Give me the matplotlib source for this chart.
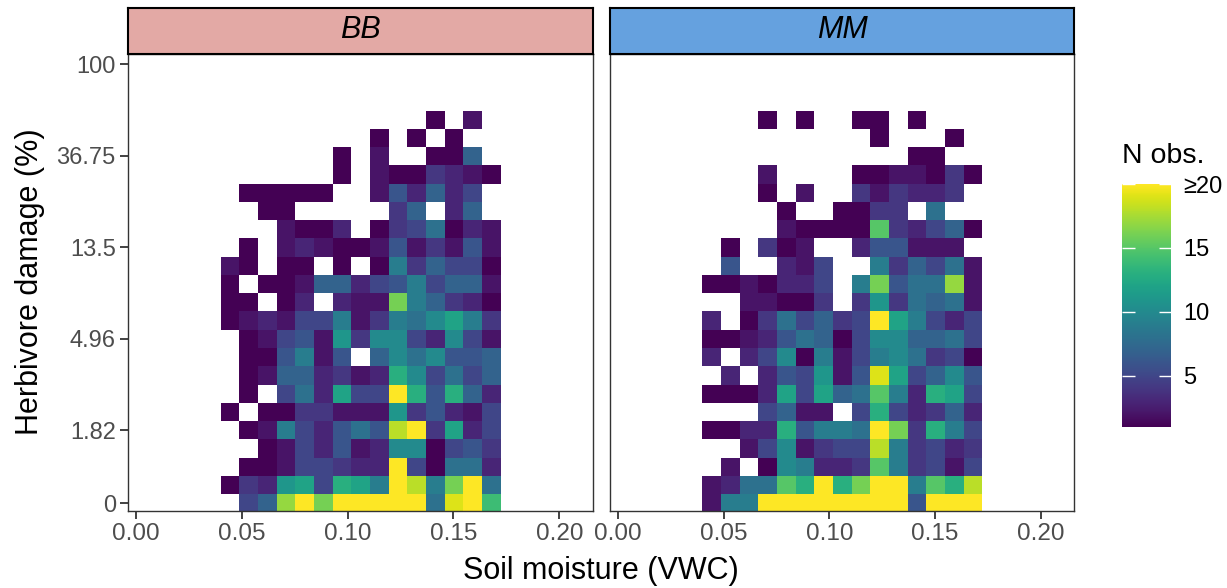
import numpy as np
import matplotlib
matplotlib.use('Agg')
import matplotlib.pyplot as plt

plt.rcParams['font.family'] = ['Liberation Sans', 'DejaVu Sans']

# number of observations per bin
# rows run from the top damage bin down to the zero-damage bin, 15 soil moisture bins each
# 0 = no observations in that bin
bb_counts = [
    [0, 0, 0, 0, 0, 0, 0, 0, 0, 0, 0, 1, 0, 2, 0],
    [0, 0, 0, 0, 0, 0, 0, 0, 1, 0, 1, 0, 1, 0, 0],
    [0, 0, 0, 0, 0, 0, 1, 0, 2, 0, 0, 1, 1, 7, 0],
    [0, 0, 0, 0, 0, 0, 1, 0, 2, 1, 1, 4, 3, 2, 1],
    [0, 1, 1, 1, 1, 1, 0, 0, 2, 6, 3, 7, 3, 5, 0],
    [0, 0, 1, 1, 0, 0, 0, 0, 0, 4, 7, 0, 3, 7, 0],
    [0, 0, 0, 2, 1, 1, 3, 0, 1, 4, 5, 8, 1, 3, 2],
    [0, 1, 0, 2, 3, 2, 1, 1, 2, 6, 2, 4, 2, 6, 2],
    [2, 1, 0, 1, 1, 0, 1, 0, 1, 9, 4, 7, 5, 5, 1],
    [1, 0, 1, 1, 2, 7, 7, 3, 5, 6, 9, 5, 7, 7, 2],
    [1, 1, 0, 1, 3, 0, 3, 2, 2, 16, 9, 7, 4, 3, 1],
    [1, 2, 3, 2, 5, 5, 9, 2, 4, 9, 8, 10, 12, 9, 4],
    [0, 1, 2, 5, 6, 2, 11, 4, 10, 10, 5, 3, 10, 5, 2],
    [0, 1, 1, 6, 9, 2, 6, 0, 7, 10, 8, 10, 6, 6, 7],
    [0, 1, 2, 7, 7, 3, 4, 2, 3, 13, 10, 5, 8, 5, 7],
    [0, 1, 0, 5, 8, 3, 12, 5, 5, 20, 13, 6, 13, 7, 3],
    [1, 0, 1, 1, 4, 4, 2, 2, 2, 11, 4, 6, 3, 2, 5],
    [0, 1, 2, 9, 5, 3, 6, 8, 6, 18, 20, 4, 12, 3, 5],
    [0, 0, 1, 2, 5, 3, 6, 2, 3, 10, 10, 1, 5, 6, 4],
    [0, 1, 1, 2, 5, 5, 4, 3, 3, 20, 5, 1, 8, 8, 3],
    [1, 4, 3, 11, 12, 5, 13, 12, 9, 20, 18, 9, 16, 20, 8],
    [0, 5, 7, 17, 20, 16, 20, 20, 20, 20, 20, 8, 19, 20, 14],
]

mm_counts = [
    [0, 0, 0, 1, 0, 1, 0, 0, 1, 1, 0, 1, 0, 0, 0],
    [0, 0, 0, 0, 0, 0, 0, 0, 0, 1, 0, 0, 0, 1, 0],
    [0, 0, 0, 0, 0, 0, 0, 0, 0, 0, 0, 1, 1, 0, 0],
    [0, 0, 0, 2, 0, 0, 0, 0, 1, 1, 2, 2, 1, 4, 1],
    [0, 0, 0, 1, 0, 2, 0, 0, 4, 2, 4, 3, 3, 4, 0],
    [0, 0, 0, 0, 1, 0, 0, 1, 1, 4, 4, 0, 8, 0, 0],
    [0, 0, 0, 0, 2, 1, 1, 1, 1, 15, 4, 3, 5, 7, 1],
    [0, 1, 0, 4, 1, 2, 0, 0, 3, 6, 6, 2, 2, 2, 0],
    [0, 6, 0, 0, 3, 2, 5, 0, 0, 9, 4, 7, 5, 8, 2],
    [1, 1, 2, 1, 3, 3, 5, 0, 9, 16, 6, 8, 8, 17, 2],
    [0, 0, 2, 2, 1, 1, 4, 0, 4, 11, 4, 8, 7, 8, 2],
    [3, 0, 1, 4, 8, 5, 7, 4, 5, 20, 12, 9, 5, 3, 5],
    [1, 1, 2, 3, 6, 8, 7, 1, 5, 10, 10, 7, 7, 8, 5],
    [3, 0, 3, 5, 10, 1, 9, 2, 5, 9, 10, 8, 4, 5, 1],
    [0, 3, 0, 3, 6, 5, 11, 2, 6, 19, 12, 5, 7, 10, 6],
    [1, 1, 1, 3, 12, 5, 12, 7, 8, 15, 9, 3, 13, 12, 5],
    [0, 0, 0, 5, 7, 2, 2, 0, 5, 13, 5, 3, 4, 7, 3],
    [1, 1, 3, 3, 13, 6, 9, 9, 8, 20, 16, 4, 13, 9, 5],
    [0, 0, 2, 5, 10, 2, 4, 5, 5, 18, 9, 4, 5, 3, 4],
    [0, 2, 0, 1, 10, 9, 3, 3, 4, 15, 9, 4, 5, 2, 5],
    [2, 3, 8, 8, 15, 13, 20, 13, 16, 20, 20, 9, 15, 13, 18],
    [2, 9, 9, 20, 20, 20, 20, 20, 20, 20, 20, 6, 20, 20, 20],
]

sites = ['BB', 'MM']
strip_colors = ['#e3a9a5', '#65a1df']

# bins: soil moisture (VWC) and log herbivore damage
x_bin_start = 0.04
x_bin_width = 0.00882
y_bin_start = -0.3
y_bin_height = 0.2

xticks = [0.00, 0.05, 0.10, 0.15, 0.20]
ytick_labels = ['0', '1.82', '4.96', '13.5', '36.75', '100']
ytick_pos = [-0.2] + list(np.log([1.82, 4.96, 13.5, 36.75, 100]))

cbar_ticks = [5, 10, 15, 20]
cbar_labels = ['5', '10', '15', '\u226520']

W, H = 1227, 588
fig = plt.figure(figsize=(W / 100, H / 100), dpi=100)

panel_left = [128.3, 610.0]
panel_w = 464.4
panel_top, panel_bottom = 53.5, 510.7
strip_top = 7.5

grey = '#4d4d4d'

for i, (site, counts) in enumerate(zip(sites, [bb_counts, mm_counts])):
    arr = np.array(counts, dtype=float)[::-1]
    arr = np.ma.masked_where(arr == 0, arr)
    nrow, ncol = arr.shape
    x_edges = x_bin_start + x_bin_width * np.arange(ncol + 1)
    y_edges = y_bin_start + y_bin_height * np.arange(nrow + 1)

    ax = fig.add_axes([panel_left[i] / W, 1 - panel_bottom / H,
                       panel_w / W, (panel_bottom - panel_top) / H])
    mesh = ax.pcolormesh(x_edges, y_edges, arr, cmap='viridis', vmin=1, vmax=20,
                         shading='flat')
    ax.set_xlim(-0.00364, 0.21578)
    ax.set_ylim(-0.281, 4.724)
    ax.set_xticks(xticks)
    ax.set_xticklabels(['%.2f' % t for t in xticks])
    ax.set_yticks(ytick_pos)
    if i == 0:
        ax.set_yticklabels(ytick_labels)
        ax.tick_params(axis='y', length=6, width=1.3, color='#333333',
                       labelsize=17, labelcolor=grey, pad=3)
    else:
        ax.tick_params(axis='y', left=False, labelleft=False)
    ax.tick_params(axis='x', length=6, width=1.3, color='#333333',
                   labelsize=17.5, labelcolor=grey, pad=3)
    for s in ax.spines.values():
        s.set_color('#333333')
        s.set_linewidth(1.0)

    # facet strip
    sax = fig.add_axes([panel_left[i] / W, 1 - panel_top / H,
                        panel_w / W, (panel_top - strip_top) / H])
    sax.set_facecolor(strip_colors[i])
    sax.set_xticks([])
    sax.set_yticks([])
    for s in sax.spines.values():
        s.set_color('black')
        s.set_linewidth(1.5)
    sax.text(0.5, 0.5, site, transform=sax.transAxes, ha='center', va='center',
             fontsize=22, style='italic')

fig.text(601 / W, 1 - 571 / H, 'Soil moisture (VWC)', ha='center', va='center',
         fontsize=22)
fig.text(30 / W, 1 - 282 / H, 'Herbivore damage (%)', ha='center', va='center',
         rotation=90, fontsize=22)

# colour bar
cax = fig.add_axes([1122 / W, 1 - 426.7 / H, 48.7 / W, 242.7 / H])
cb = fig.colorbar(mesh, cax=cax, ticks=cbar_ticks)
cb.set_ticklabels(cbar_labels)
cb.outline.set_visible(False)
cax.tick_params(left=True, right=True, direction='in', color='white',
                length=9, width=1, labelsize=17, pad=9)
fig.text(1122 / W, 1 - 163 / H, 'N obs.', ha='left', va='baseline', fontsize=20.5)

fig.savefig('out.png', dpi=100)
